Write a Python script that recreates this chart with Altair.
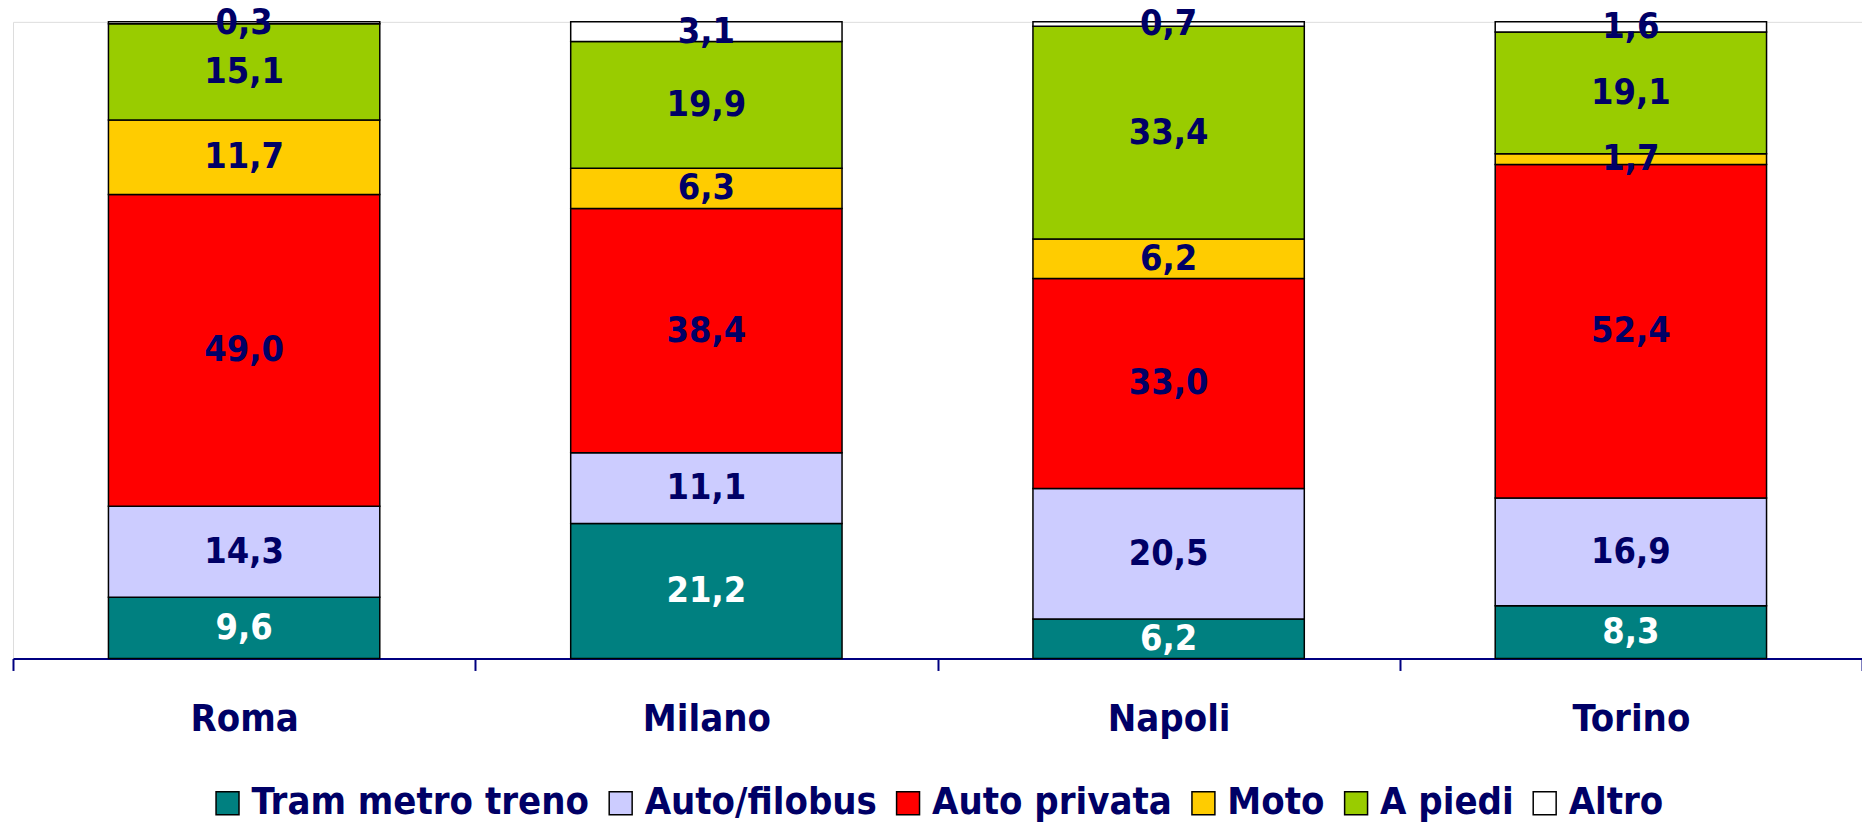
import altair as alt
import pandas as pd

cities = ["Roma", "Milano", "Napoli", "Torino"]
modes = ["Tram metro treno", "Auto/filobus", "Auto privata", "Moto", "A piedi", "Altro"]
tram = [9.6, 21.2, 6.2, 8.3]
bus = [14.3, 11.1, 20.5, 16.9]
auto = [49.0, 38.4, 33.0, 52.4]
moto = [11.7, 6.3, 6.2, 1.7]
piedi = [15.1, 19.9, 33.4, 19.1]
altro = [0.3, 3.1, 0.7, 1.6]
colors = ["#008080", "#CCCCFF", "#FF0000", "#FFCC00", "#99CC00", "#FFFFFF"]

series = [tram, bus, auto, moto, piedi, altro]
rows = []
for mi, (m, vals) in enumerate(zip(modes, series)):
    for c, v in zip(cities, vals):
        rows.append({"city": c, "mode": m, "idx": mi, "value": v,
                     "label": f"{v:.1f}".replace(".", ",")})
df = pd.DataFrame(rows)

FONT = "DejaVu Sans Condensed"
NAVY = "#000066"

base = alt.Chart(df).transform_stack(
    stack="value", as_=["v0", "v1"], groupby=["city"],
    sort=[alt.SortField("idx", order="ascending")]
).transform_calculate(mid="(datum.v0 + datum.v1) / 2")

x = alt.X("city:N", sort=cities, title=None,
          scale=alt.Scale(paddingInner=0, paddingOuter=0),
          axis=alt.Axis(labelAngle=0, tickBand="extent", tickSize=12, tickWidth=2,
                        tickColor="#000080", domainColor="#000080", domainWidth=2,
                        labelFont=FONT, labelFontSize=38, labelFontWeight="bold",
                        labelColor=NAVY, labelPadding=30))

bars = base.mark_bar(stroke="#000000", strokeWidth=1.5,
                     width=alt.RelativeBandSize(0.587)).encode(
    x=x,
    y=alt.Y("v0:Q", scale=alt.Scale(domain=[0, 100]), axis=None),
    y2="v1:Q",
    color=alt.Color("mode:N", sort=modes,
                    scale=alt.Scale(domain=modes, range=colors),
                    legend=alt.Legend(title=None, orient="none", direction="horizontal",
                                      legendX=196, legendY=764, padding=0,
                                      symbolType="square", symbolSize=529,
                                      symbolStrokeColor="black", symbolStrokeWidth=1.5,
                                      labelFont=FONT, labelFontSize=38, labelFontWeight="bold",
                                      labelColor=NAVY, labelOffset=5, columnPadding=12,
                                      labelLimit=600)),
)

texts = base.mark_text(font=FONT, fontSize=36, fontWeight="bold", baseline="middle").encode(
    x=alt.X("city:N", sort=cities),
    y=alt.Y("mid:Q"),
    text="label:N",
    color=alt.condition(alt.datum.mode == "Tram metro treno", alt.value("white"), alt.value(NAVY)),
)

chart = alt.layer(bars, texts).properties(
    width=1853, height=638,
    padding={"left": 5, "top": 13, "right": 0, "bottom": 168},
    autosize=alt.AutoSizeParams(type="none"),
).configure_view(stroke=None).configure(background="white")

chart.save("out.html", embed_options={"renderer": "svg", "actions": False})
